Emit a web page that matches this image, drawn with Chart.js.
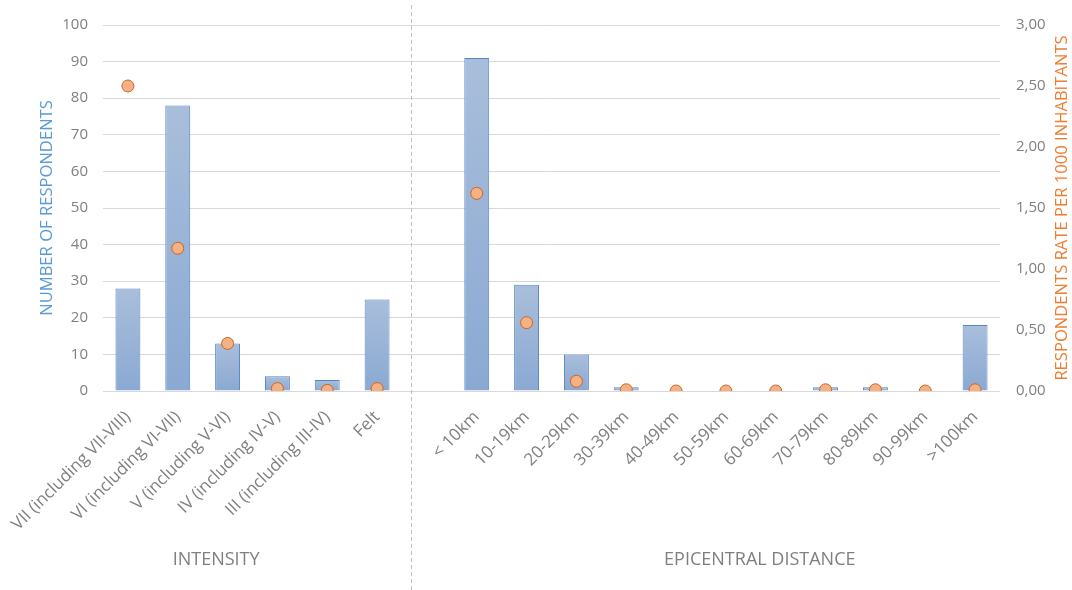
<!DOCTYPE html>
<html>
<head>
<meta charset="utf-8">
<script src="https://cdn.jsdelivr.net/npm/chart.js@4"></script>
<style>
  html, body { margin: 0; padding: 0; background: #fff; }
  #wrap { width: 1072px; height: 590px; }
</style>
</head>
<body>
<div id="wrap"><canvas id="chart"></canvas></div>
<script>
// categories: intensity group, an empty spacer slot, then distance group
const categories = [
  'VII (including VII-VIII)', 'VI (including VI-VII)', 'V (including V-VI)',
  'IV (including IV-V)', 'III (including III-IV)', 'Felt',
  '',
  '< 10km', '10-19km', '20-29km', '30-39km', '40-49km', '50-59km',
  '60-69km', '70-79km', '80-89km', '90-99km', '>100km'
];
const respondents = [28, 78, 13, 4, 3, 25, null, 91, 29, 10, 1, 0, 0, 0, 1, 1, 0, 18];
const ratePer1000 = [2.50, 1.17, 0.39, 0.02, 0.005, 0.02, null, 1.62, 0.56, 0.08, 0.01, 0, 0, 0, 0.01, 0.01, 0, 0.01];
const leftTicks = { min: 0, max: 100, step: 10 };
const rightTicks = { min: 0, max: 3, step: 0.5 };

const greyText = '#7f7f7f';
const fontFamily = '"Open Sans", "DejaVu Sans", sans-serif';

function barGradient(context) {
  const chart = context.chart;
  const yScale = chart.scales.y;
  const v = context.raw;
  if (!chart.chartArea || v == null) return '#9ab4d8';
  const top = yScale.getPixelForValue(v);
  const base = yScale.getPixelForValue(0);
  if (base - top < 1) return '#9ab4d8';
  const g = chart.ctx.createLinearGradient(0, top, 0, base);
  g.addColorStop(0, '#a9bedb');
  g.addColorStop(1, '#8aa9d2');
  return g;
}

// dashed divider and the two group titles
const decorations = {
  id: 'decorations',
  afterDraw(chart) {
    const ctx = chart.ctx;
    const x = chart.scales.x;
    const area = chart.chartArea;
    ctx.save();
    const dx = Math.round(x.getPixelForValue(5.68)) + 0.5;
    ctx.strokeStyle = '#c0c0c0';
    ctx.lineWidth = 1;
    ctx.setLineDash([4, 3]);
    ctx.beginPath();
    ctx.moveTo(dx, 5);
    ctx.lineTo(dx, chart.height);
    ctx.stroke();
    ctx.setLineDash([]);

    ctx.fillStyle = greyText;
    ctx.font = '18px ' + fontFamily;
    ctx.textAlign = 'center';
    ctx.textBaseline = 'middle';
    ctx.fillText('INTENSITY', x.getPixelForValue(1.77), 560);
    ctx.fillText('EPICENTRAL DISTANCE', x.getPixelForValue(12.68), 560);

    // right axis title, reading bottom to top
    ctx.fillStyle = '#ed7d31';
    ctx.font = '16.6px ' + fontFamily;
    ctx.translate(chart.width - 10, (area.top + area.bottom) / 2);
    ctx.rotate(-Math.PI / 2);
    ctx.fillText('RESPONDENTS RATE PER 1000 INHABITANTS', 0, 0);
    ctx.restore();
  }
};

const ctx = document.getElementById('chart').getContext('2d');
new Chart(ctx, {
  type: 'bar',
  data: {
    labels: categories,
    datasets: [
      {
        type: 'line',
        label: 'Rate per 1000 inhabitants',
        data: ratePer1000,
        yAxisID: 'y1',
        showLine: false,
        pointRadius: 6,
        pointHoverRadius: 6,
        pointBackgroundColor: '#f4b183',
        pointBorderColor: '#cc6424',
        pointBorderWidth: 1,
        order: 0
      },
      {
        type: 'bar',
        label: 'Number of respondents',
        data: respondents,
        yAxisID: 'y',
        backgroundColor: barGradient,
        borderColor: '#5585c3',
        borderWidth: 1,
        borderSkipped: 'bottom',
        barPercentage: 0.5,
        categoryPercentage: 1,
        order: 1
      }
    ]
  },
  options: {
    responsive: true,
    maintainAspectRatio: false,
    animation: false,
    layout: { padding: { top: 25, bottom: 0, left: 0, right: 0 } },
    plugins: {
      legend: { display: false },
      tooltip: { enabled: false }
    },
    scales: {
      x: {
        grid: { display: false, drawTicks: false },
        border: { display: false },
        ticks: {
          color: greyText,
          font: { family: fontFamily, size: 17 },
          minRotation: 45,
          maxRotation: 45,
          autoSkip: false,
          padding: 16
        },
        afterFit(scale) {
          scale.height = 199;
          scale.paddingLeft = 0;
          scale.paddingRight = 0;
        }
      },
      y: {
        position: 'left',
        min: leftTicks.min,
        max: leftTicks.max,
        grid: { color: '#d9d9d9', lineWidth: 1, drawTicks: false },
        border: { display: false },
        ticks: {
          stepSize: leftTicks.step,
          color: greyText,
          font: { family: fontFamily, size: 15 },
          padding: 15
        },
        title: {
          display: true,
          text: 'NUMBER OF RESPONDENTS',
          color: '#5b9bd5',
          font: { family: fontFamily, size: 16.6 },
          padding: { top: 37, bottom: 0 }
        },
        afterFit(scale) { scale.width = 103; }
      },
      y1: {
        position: 'right',
        min: rightTicks.min,
        max: rightTicks.max,
        grid: { display: false, drawTicks: false },
        border: { display: false },
        ticks: {
          stepSize: rightTicks.step,
          color: greyText,
          font: { family: fontFamily, size: 15 },
          padding: 16,
          callback: v => Number(v).toFixed(2).replace('.', ',')
        },
        afterFit(scale) { scale.width = 72; }
      }
    }
  },
  plugins: [decorations]
});
</script>
</body>
</html>
